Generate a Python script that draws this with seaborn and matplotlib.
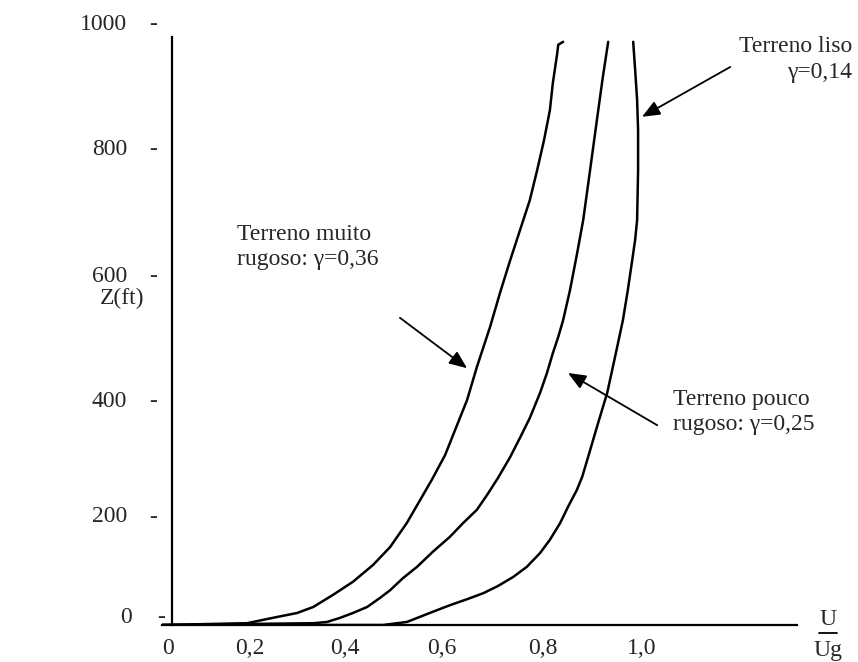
import matplotlib
matplotlib.use("Agg")
import matplotlib.pyplot as plt
import numpy as np
import pandas as pd
import seaborn as sns

# Wind velocity profiles: height Z (ft) against the ratio U/Ug
u_muito = [0.020, 0.194, 0.247, 0.296, 0.329, 0.369, 0.410, 0.451, 0.486,
           0.520, 0.547, 0.571, 0.598, 0.620, 0.643, 0.663, 0.690, 0.710,
           0.731, 0.751, 0.771, 0.786, 0.800, 0.812, 0.818, 0.827, 0.829, 0.839]
z_muito = [0, 3, 12, 20, 30, 50, 72, 100, 130,
           170, 208, 242, 283, 328, 375, 430, 497, 553,
           608, 658, 708, 758, 808, 858, 903, 953, 967, 972]

u_pouco = [0.020, 0.329, 0.357, 0.384, 0.410, 0.439, 0.465, 0.486, 0.512,
           0.541, 0.573, 0.608, 0.635, 0.663, 0.684, 0.706, 0.731, 0.751,
           0.771, 0.792, 0.806, 0.818, 0.829, 0.839, 0.853, 0.867, 0.880,
           0.894, 0.908, 0.920, 0.931]
z_pouco = [0, 3, 5, 12, 20, 30, 45, 58, 78,
           97, 122, 147, 170, 192, 217, 245, 280, 312,
           345, 387, 420, 453, 480, 508, 558, 617, 675,
           758, 842, 913, 972]

u_liso = [0.020, 0.471, 0.520, 0.573, 0.608, 0.643, 0.676, 0.706, 0.737,
          0.765, 0.792, 0.812, 0.833, 0.849, 0.867, 0.878, 0.890, 0.908,
          0.929, 0.945, 0.961, 0.971, 0.980, 0.986, 0.990, 0.992, 0.992,
          0.990, 0.986, 0.982]
z_liso = [0, 0, 5, 22, 33, 43, 53, 65, 80,
          97, 120, 142, 170, 197, 225, 247, 280, 330,
          387, 447, 508, 558, 608, 642, 675, 758, 825,
          875, 925, 972]

y_tick_labels = ["1000", "800", "600", "400", "200", "0"]
x_tick_labels = ["0", "0,2", "0,4", "0,6", "0,8", "1,0"]

df = pd.concat([
    pd.DataFrame({"u": u_muito, "z": z_muito, "terreno": "muito rugoso"}),
    pd.DataFrame({"u": u_pouco, "z": z_pouco, "terreno": "pouco rugoso"}),
    pd.DataFrame({"u": u_liso, "z": z_liso, "terreno": "liso"}),
], ignore_index=True)

sns.set_theme(style="white")
plt.rcParams["font.family"] = ["Liberation Serif", "DejaVu Serif"]

fig = plt.figure(figsize=(8.58, 6.62), dpi=100)
ax = fig.add_axes([162 / 858, 37 / 662, (797 - 162) / 858, (625 - 37) / 662])

sns.lineplot(data=df, x="u", y="z", units="terreno", estimator=None,
             sort=False, color="black", linewidth=1.8, ax=ax)

ax.set_xlim(0.0204, 1.3163)
ax.set_ylim(0, 980)

for side in ["top", "right"]:
    ax.spines[side].set_visible(False)
for side in ["left", "bottom"]:
    ax.spines[side].set_color("black")
    ax.spines[side].set_linewidth(1.6)
ax.spines["left"].set_position(("data", 0.0408))
ax.set_xticks([])
ax.set_yticks([])
ax.set_xlabel("")
ax.set_ylabel("")

fs = 17
# vertical scale labels, each followed by a dash
y_label_pos = [1000, 792, 580, 372, 180, 12]
for lab, yp in zip(y_tick_labels, y_label_pos):
    ax.text(-0.051 if lab != "0" else -0.041, yp, lab, ha="right", va="center",
            fontsize=fs, clip_on=False)
    ax.text(0.002 if lab != "0" else 0.018, yp, "-", ha="center", va="center",
            fontsize=fs, clip_on=False)

# horizontal scale labels
x_label_pos = [0.033, 0.200, 0.394, 0.592, 0.798, 1.000]
for lab, xp in zip(x_tick_labels, x_label_pos):
    ax.text(xp, -40, lab, ha="center", va="center", fontsize=fs, clip_on=False)

ax.text(-0.061, 545, "Z(ft)", ha="center", va="center", fontsize=fs, clip_on=False)

# U / Ug fraction at the end of the horizontal axis
ax.text(1.380, 9, "U", ha="center", va="center", fontsize=fs, clip_on=False)
ax.plot([1.362, 1.398], [-13, -13], color="black", linewidth=1.3, clip_on=False)
ax.text(1.380, -43, "Ug", ha="center", va="center", fontsize=fs, clip_on=False)

arrow = dict(arrowstyle="-|>,head_length=0.6,head_width=0.25",
             color="black", lw=1.3, mutation_scale=18, shrinkA=0, shrinkB=0)

ax.annotate("", xy=(1.000, 847), xytext=(1.180, 930), arrowprops=arrow,
            annotation_clip=False)
ax.text(1.429, 942, "Terreno liso\nγ=0,14", ha="right", va="center",
        multialignment="right", fontsize=fs, linespacing=1.3, clip_on=False)

ax.annotate("", xy=(0.643, 428), xytext=(0.506, 512), arrowprops=arrow)
ax.text(0.173, 630, "Terreno muito\nrugoso: γ=0,36", ha="left", va="center",
        fontsize=fs, linespacing=1.3)

ax.annotate("", xy=(0.849, 420), xytext=(1.031, 333), arrowprops=arrow)
ax.text(1.063, 355, "Terreno pouco\nrugoso: γ=0,25", ha="left", va="center",
        fontsize=fs, linespacing=1.3, clip_on=False)

fig.savefig("out.png", dpi=100, facecolor="white")
